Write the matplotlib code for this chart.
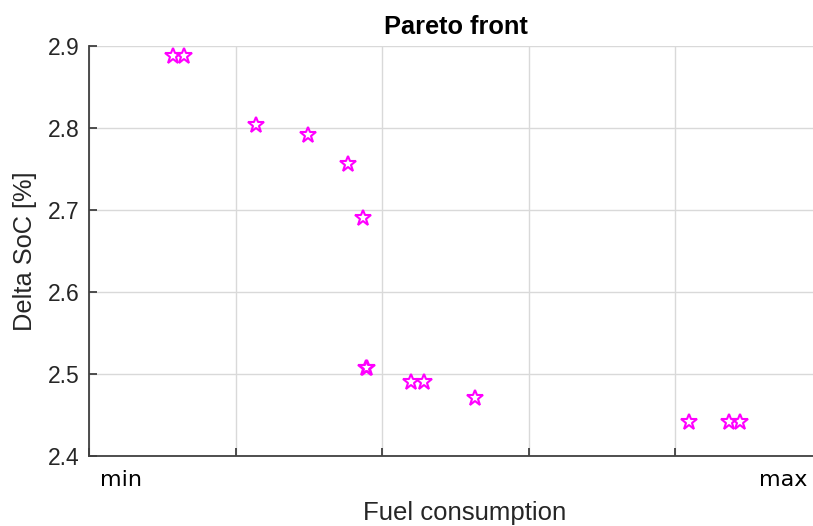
import numpy as np
import matplotlib
matplotlib.use('Agg')
import matplotlib.pyplot as plt

# Pareto front points (fuel consumption normalised to the 0..5 grid, delta SoC in %)
fuel = [0.573, 0.648, 1.140, 1.495, 1.768, 1.870, 1.887, 1.898,
        2.196, 2.282, 2.630, 4.091, 4.369, 4.444]
delta_soc = [2.888, 2.888, 2.804, 2.7915, 2.756, 2.690, 2.507, 2.507,
             2.490, 2.490, 2.471, 2.441, 2.441, 2.441]

y_ticks = [2.4, 2.5, 2.6, 2.7, 2.8, 2.9]
x_ticks = [0, 1, 2, 3, 4, 5]

txt = '#262626'
plt.rcParams['font.family'] = ['Liberation Sans', 'DejaVu Sans']

fig = plt.figure(figsize=(8.13, 5.26), dpi=100)
ax = fig.add_axes([89/813, 70/526, 733/813, 410/526])

ax.plot(fuel, delta_soc, linestyle='none', marker='*', markersize=12,
        markerfacecolor='none', markeredgecolor='#ff00ff', markeredgewidth=1.5,
        clip_on=False)

ax.set_xlim(0, 5)
ax.set_ylim(2.4, 2.9)
ax.set_xticks(x_ticks)
ax.set_xticklabels([''] * len(x_ticks))
ax.set_yticks(y_ticks)
ax.set_yticklabels([f'{v:.1f}' for v in y_ticks])

ax.grid(True, color='#d9d9d9', linewidth=1.0)
ax.set_axisbelow(True)
for s in ['top', 'right']:
    ax.spines[s].set_visible(False)
for s in ['left', 'bottom']:
    ax.spines[s].set_color('#404040')
    ax.spines[s].set_linewidth(1.3)

ax.tick_params(axis='both', direction='in', length=6, width=1.3, color='#404040',
               labelsize=16.5, labelcolor=txt)
ax.tick_params(axis='y', pad=7)

ax.set_title('Pareto front', fontsize=18.3, fontweight='bold', color='black', pad=9)
ax.set_xlabel('Fuel consumption', fontsize=18.5, color=txt, va='top')
ax.xaxis.set_label_coords(0.512, -0.11)
ax.set_ylabel('Delta SoC [%]', fontsize=18.3, color=txt)
ax.yaxis.set_label_coords(-0.071, 0.5)

# min / max markers under the x axis
ax.text(0.015, -0.035, 'min', transform=ax.transAxes, ha='left', va='top',
        fontsize=16, family='DejaVu Sans', color='black')
ax.text(0.98, -0.033, 'max', transform=ax.transAxes, ha='right', va='top',
        fontsize=16, family='DejaVu Sans', color='black')

fig.savefig('out.png', dpi=100)
